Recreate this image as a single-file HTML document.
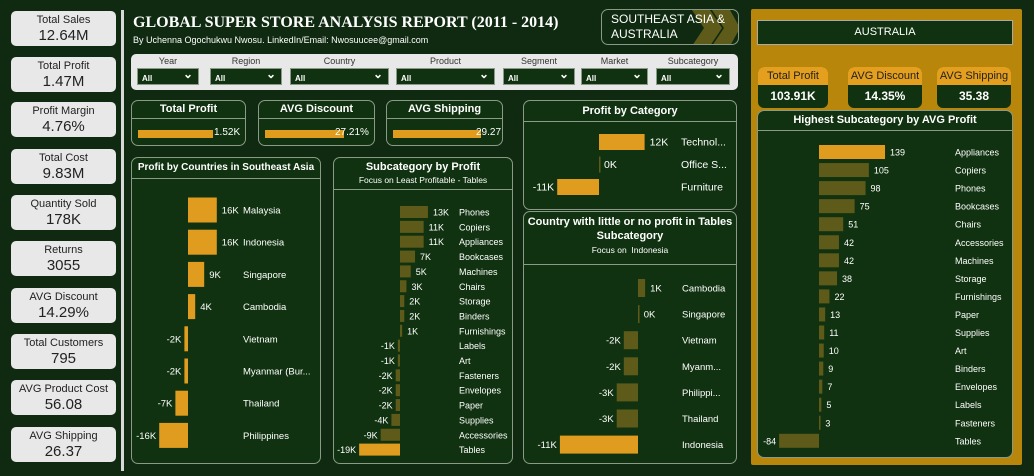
<!DOCTYPE html>
<html><head><meta charset="utf-8"><style>
body{margin:0;width:1034px;height:476px;background:#0f2a10;font-family:"Liberation Sans",sans-serif;color:#fff;position:relative;overflow:hidden}
.a{position:absolute;box-sizing:border-box}
.kpi{left:11px;width:105px;height:35px;background:#e8e8e8;border-radius:5px;color:#222;text-align:center;font-size:11px;line-height:13px;padding-top:3px}
.kpi b{display:block;font-weight:normal;font-size:15px;line-height:18px}
.box{border:1px solid #8a9a86;border-radius:7px;background:#103210}
.hd{font-weight:bold;font-size:11px;text-align:center;border-bottom:1px solid #8a9a86;white-space:nowrap}
.flt{font-size:9px;color:#333;text-align:center}
.dd{position:absolute;top:14px;height:17px;background:#103210;border:1px solid #8a9a86;color:#fff;font-size:8px;font-weight:bold;text-align:left;padding:5px 0 0 4px;box-sizing:border-box}
.dd:after{content:"⌄";position:absolute;right:5px;top:-2px;font-size:12px}
.ak{top:57px;width:72px;height:43px;border:1px solid #b8860b;border-radius:7px;background:#103210;text-align:center;font-size:12px;font-weight:bold;overflow:hidden;white-space:nowrap}
.ak i{display:block;font-style:normal;font-weight:normal;font-size:11px;background:#e39f1d;color:#222;height:18px;line-height:18px;margin-bottom:4px}
svg{position:absolute;left:0;top:0}
</style></head><body>
<div class="a kpi" style="top:11px">Total Sales<b>12.64M</b></div>
<div class="a kpi" style="top:57px">Total Profit<b>1.47M</b></div>
<div class="a kpi" style="top:102px">Profit Margin<b>4.76%</b></div>
<div class="a kpi" style="top:149px">Total Cost<b>9.83M</b></div>
<div class="a kpi" style="top:195px">Quantity Sold<b>178K</b></div>
<div class="a kpi" style="top:241px">Returns<b>3055</b></div>
<div class="a kpi" style="top:288px">AVG Discount<b>14.29%</b></div>
<div class="a kpi" style="top:334px">Total Customers<b>795</b></div>
<div class="a kpi" style="top:380px">AVG Product Cost<b>56.08</b></div>
<div class="a kpi" style="top:427px">AVG Shipping<b>26.37</b></div>
<div class="a" style="left:121px;top:10px;width:3px;height:461px;background:#d8d8d8"></div>
<div class="a" style="left:133px;top:14px;font-family:'Liberation Serif',serif;font-weight:bold;font-size:16px;white-space:nowrap">GLOBAL SUPER STORE ANALYSIS REPORT (2011 - 2014)</div>
<div class="a" style="left:133px;top:35px;font-size:9px;white-space:nowrap">By Uchenna Ogochukwu Nwosu. LinkedIn/Email: Nwosuucee@gmail.com</div>
<div class="a" style="left:601px;top:9px;width:138px;height:36px;border:1px solid #8a9a86;border-radius:7px;overflow:hidden">
<svg width="138" height="36"><polygon points="90,0 108,0 120,18 108,36 90,36 102,18" fill="#5e5a1a"/><polygon points="110,0 128,0 138,18 128,36 110,36 122,18" fill="#5e5a1a"/></svg>
<div style="position:absolute;left:9px;top:2px;font-size:12px;line-height:15px">SOUTHEAST ASIA &amp;<br>AUSTRALIA</div></div>
<div class="a" style="left:131px;top:54px;width:607px;height:36px;background:#e8e8e8;border-radius:5px">
<div class="a flt" style="left:6px;top:2px;width:62px">Year<div class="dd" style="top:12px;width:62px">All</div></div>
<div class="a flt" style="left:79px;top:2px;width:72px">Region<div class="dd" style="top:12px;width:72px">All</div></div>
<div class="a flt" style="left:159px;top:2px;width:99px">Country<div class="dd" style="top:12px;width:99px">All</div></div>
<div class="a flt" style="left:265px;top:2px;width:99px">Product<div class="dd" style="top:12px;width:99px">All</div></div>
<div class="a flt" style="left:372px;top:2px;width:72px">Segment<div class="dd" style="top:12px;width:72px">All</div></div>
<div class="a flt" style="left:450px;top:2px;width:67px">Market<div class="dd" style="top:12px;width:67px">All</div></div>
<div class="a flt" style="left:525px;top:2px;width:74px">Subcategory<div class="dd" style="top:12px;width:74px">All</div></div>
</div>
<div class="a box" style="left:131px;top:100px;width:115px;height:46px"><div class="hd" style="height:17px;line-height:17px">Total Profit</div><div class="a" style="left:6px;top:29px;width:75px;height:8px;background:#e09c1c"></div><div class="a" style="left:82px;top:26px;font-size:10px">1.52K</div></div>
<div class="a box" style="left:258px;top:100px;width:117px;height:46px"><div class="hd" style="height:17px;line-height:17px">AVG Discount</div><div class="a" style="left:6px;top:29px;width:79px;height:8px;background:#e09c1c"></div><div class="a" style="left:76px;top:26px;font-size:10px">27.21%</div></div>
<div class="a box" style="left:386px;top:100px;width:117px;height:46px"><div class="hd" style="height:17px;line-height:17px">AVG Shipping</div><div class="a" style="left:6px;top:29px;width:88px;height:8px;background:#e09c1c"></div><div class="a" style="left:89px;top:26px;font-size:10px">29.27</div></div>
<div class="a box" style="left:523px;top:100px;width:214px;height:110px"><div class="hd" style="height:20px;line-height:20px">Profit by Category</div></div>
<div class="a box" style="left:131px;top:157px;width:190px;height:307px"><div class="hd" style="height:20px;line-height:20px;font-size:10px">Profit by Countries in Southeast Asia</div></div>
<div class="a box" style="left:333px;top:157px;width:180px;height:307px"><div class="hd" style="height:28px;padding-top:3px;line-height:13px">Subcategory by Profit<div style="font-weight:normal;font-size:8.5px">Focus on Least Profitable - Tables</div></div></div>
<div class="a box" style="left:523px;top:211px;width:214px;height:253px"><div class="hd" style="height:49px;padding-top:3px;line-height:14px;white-space:normal">Country with little or no profit in Tables Subcategory<div style="font-weight:normal;font-size:8.5px">Focus on&nbsp; Indonesia</div></div></div>
<div class="a" style="left:751px;top:9px;width:271px;height:456px;background:#b8860b;border-radius:2px">
<div class="a" style="left:6px;top:11px;width:256px;height:25px;border:1px solid #aaa;background:#103210;text-align:center;line-height:23px;font-size:11px">AUSTRALIA</div>
<div class="a ak" style="left:6px"><i>Total Profit</i>103.91K</div>
<div class="a ak" style="left:96px;width:76px"><i>AVG Discount</i>14.35%</div>
<div class="a ak" style="left:185px;width:76px"><i>AVG Shipping</i>35.38</div>
<div class="a box" style="left:6px;top:101px;width:256px;height:348px"><div class="hd" style="height:19px;line-height:19px">Highest Subcategory by AVG Profit</div></div>
</div>
<svg id="ch" width="1034" height="476"></svg>
<script>
const catNames=["Technol...","Office S...","Furniture"];
const catValues=[12,0,-11];
const catLabels=["12K","0K","-11K"];
const seaNames=["Malaysia","Indonesia","Singapore","Cambodia","Vietnam","Myanmar (Bur...","Thailand","Philippines"];
const seaValues=[16,16,9,4,-2,-2,-7,-16];
const seaLabels=["16K","16K","9K","4K","-2K","-2K","-7K","-16K"];
const subNames=["Phones","Copiers","Appliances","Bookcases","Machines","Chairs","Storage","Binders","Furnishings","Labels","Art","Fasteners","Envelopes","Paper","Supplies","Accessories","Tables"];
const subValues=[13,11,11,7,5,3,2,2,1,-1,-1,-2,-2,-2,-4,-9,-19];
const subLabels=["13K","11K","11K","7K","5K","3K","2K","2K","1K","-1K","-1K","-2K","-2K","-2K","-4K","-9K","-19K"];
const tblNames=["Cambodia","Singapore","Vietnam","Myanm...","Philippi...","Thailand","Indonesia"];
const tblValues=[1,0.1,-2,-2,-3,-3,-11];
const tblLabels=["1K","0K","-2K","-2K","-3K","-3K","-11K"];
const ausNames=["Appliances","Copiers","Phones","Bookcases","Chairs","Accessories","Machines","Storage","Furnishings","Paper","Supplies","Art","Binders","Envelopes","Labels","Fasteners","Tables"];
const ausValues=[139,105,98,75,51,42,42,38,22,13,11,10,9,7,5,3,-84];
const ausLabels=ausValues.map(String);
const svg=document.getElementById('ch');
const NS='http://www.w3.org/2000/svg';
function mk(t,a){const e=document.createElementNS(NS,t);for(const k in a)e.setAttribute(k,a[k]);svg.appendChild(e);return e;}
function chart(id,names,vals,labs,o){
  names.forEach((n,i)=>{
    const v=vals[i],y=o.y0+i*o.step,w=Math.abs(v)*o.k,x=v>=0?o.zero:o.zero-w;
    const r=mk('rect',{x:x,y:y-o.h/2,width:Math.max(w,1.5),height:o.h,fill:o.hi(i)?'#df9c1e':'#5e5a1a'});
    
    
    const vt=mk('text',{x:v>=0?o.zero+w+5:x-3,y:y+3.5,'font-size':o.fs,fill:'#fff','text-anchor':v>=0?'start':'end'});
    vt.textContent=labs[i];
    
    
    const lt=mk('text',{x:o.lx,y:y+3.5,'font-size':o.fs,fill:'#fff'});
    lt.textContent=n;
    
    
  });
}
chart('category',catNames,catValues,catLabels,{zero:599,k:3.8,y0:142,step:22.5,h:16,lx:681,fs:10.5,hi:i=>i!=1});
chart('sea-country',seaNames,seaValues,seaLabels,{zero:188,k:1.8,y0:210,step:32.2,h:25,lx:243,fs:9.5,hi:()=>true});
chart('subcategory',subNames,subValues,subLabels,{zero:400,k:2.15,y0:212,step:14.85,h:12,lx:459,fs:9,hi:i=>i==16});
chart('tables-country',tblNames,tblValues,tblLabels,{zero:638,k:7.1,y0:288,step:26.1,h:18,lx:682,fs:9.5,hi:i=>i==6});
chart('aus-subcategory',ausNames,ausValues,ausLabels,{zero:819,k:0.475,y0:152,step:18.05,h:14,lx:955,fs:9,hi:i=>i==0});
</script>
</body></html>
